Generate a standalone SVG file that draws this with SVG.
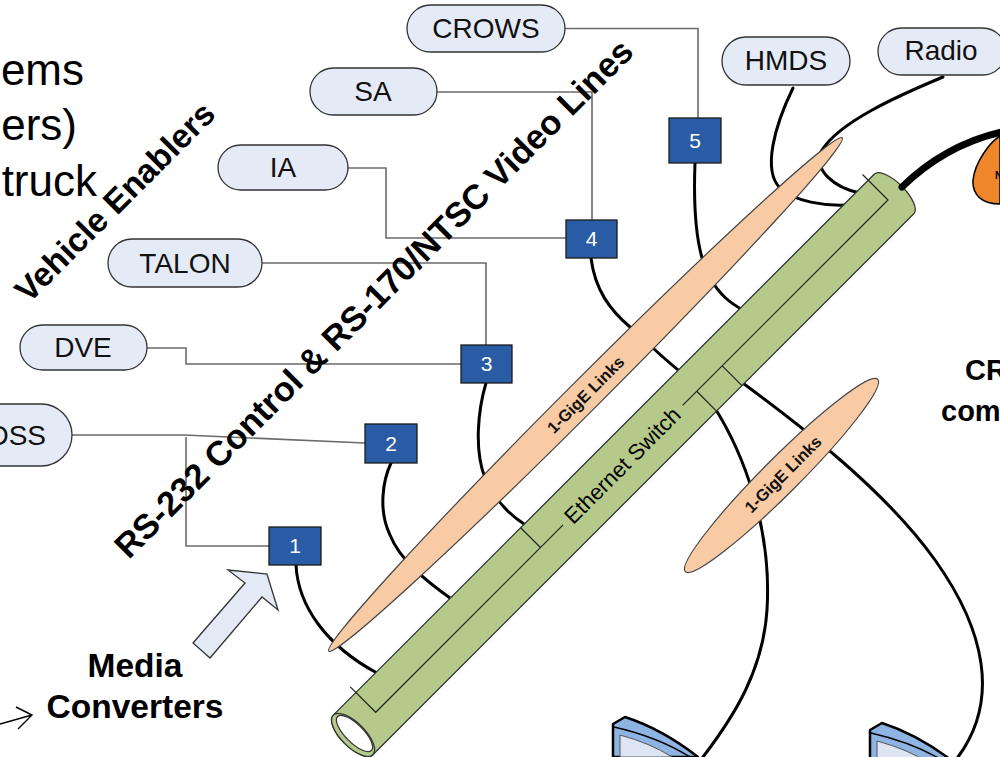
<svg xmlns="http://www.w3.org/2000/svg" width="1000" height="757" viewBox="0 0 1000 757">
<style>
.pill{fill:#E5EBF6;stroke:#333;stroke-width:1.3}
.pt{font-family:"Liberation Sans",Arial,sans-serif;font-size:28px;fill:#111;text-anchor:middle}
.box{fill:#2A5CA6;stroke:#1a1a1a;stroke-width:1.3}
.bt{font-family:"Liberation Sans",Arial,sans-serif;font-size:21px;fill:#fff;text-anchor:middle}
.gl{fill:none;stroke:#6b6b6b;stroke-width:1.6}
.cab{fill:none;stroke:#000;stroke-width:3;stroke-linecap:round}
.big{font-family:"Liberation Sans",Arial,sans-serif;font-weight:bold;fill:#000;text-anchor:middle}
.org{fill:#F8CBA5;stroke:#444;stroke-width:1.2}
.gt{font-family:"Liberation Sans",Arial,sans-serif;font-weight:bold;font-size:16.5px;fill:#111;text-anchor:middle}
.thin{fill:none;stroke:#222;stroke-width:1.2}
</style>

<!-- top-left cut text -->
<g id="legacy-text" font-family="Liberation Sans, Arial, sans-serif" font-size="44" fill="#000" text-anchor="end">
<text x="84" y="85">ems</text>
<text x="77" y="140">ers)</text>
<text x="97" y="196">truck</text>
</g>

<g id="connectors">
<path class="gl" d="M565,28.5 H698 V118"/>
<path class="gl" d="M437,92 H592 V220"/>
<path class="gl" d="M348,168 H386 V238 H566"/>
<path class="gl" d="M262,263 H486 V345"/>
<path class="gl" d="M147,348 H186 V364 H461"/>
<path class="gl" d="M72,435 H184 L365,443"/>
<path class="gl" d="M186,437 V546 H269"/>
<path class="cab" d="M296,565 C298,605 325,645 377,673"/>
<path class="cab" d="M391,463 C383,480 378,510 390,535 C400,560 425,580 450,598"/>
<path class="cab" d="M486,383 C478,410 474,450 485,478 C495,500 510,515 524,524"/>
<path class="cab" d="M591,258 C595,290 610,310 630,327 C650,345 665,360 682,373"/>
<path class="cab" d="M695,163 C693,215 697,255 710,278 C720,295 730,303 743,310"/>
<path class="cab" d="M793,88 C775,125 762,170 780,188 C795,202 825,206 847,205"/>
<path class="cab" d="M943,77 C895,97 840,122 822,150 C812,170 835,188 860,193"/>
<path class="cab" d="M713,405 C745,455 772,530 767,610 C763,670 735,715 703,757"/>
<path class="cab" d="M740,381 C800,425 885,490 935,560 C985,630 1000,700 958,757"/>
</g>

<g id="gige-links-1" transform="translate(585.5,394.5) rotate(-45)">
<ellipse class="org" cx="0" cy="0" rx="363" ry="16"/>
<text class="gt" x="0" y="6">1-GigE Links</text>
</g>
<g id="gige-links-2" transform="translate(781.5,475.5) rotate(-45)">
<ellipse class="org" cx="0" cy="0" rx="136" ry="18"/>
<text class="gt" x="2" y="6">1-GigE Links</text>
</g>

<g id="ethernet-switch" transform="translate(544,544) rotate(-45)">
<path d="M-270,-28 L495,-28 A11,28 0 0 1 495,28 L-270,28 A12,28 0 0 1 -270,-28 Z" fill="#B5C98A" stroke="#333" stroke-width="1.3"/>
<ellipse cx="-270" cy="0" rx="12" ry="28" fill="#B5C98A" stroke="#333" stroke-width="1.3"/>
<ellipse cx="-268" cy="0" rx="9" ry="24" fill="#fff" stroke="#333" stroke-width="1.2"/>
<path class="thin" d="M-238,-36 V0 H27 M196,0 H486.5 V-36"/>
<path class="thin" d="M-5,-28 V0 M216,0 V28 M252,0 V28"/>
<text x="111" y="7.5" font-family="Liberation Sans, Arial, sans-serif" font-size="22" fill="#000" text-anchor="middle">Ethernet Switch</text>
</g>

<g id="network-blob">
<path d="M1000,136 C990,142 975,162 973,180 C972,195 982,204 1000,204 Z" fill="#F0862B" stroke="#000" stroke-width="1.5"/>
<text x="995" y="179" font-family="Liberation Sans, Arial, sans-serif" font-size="10" font-weight="bold" fill="#000">N</text>
<path d="M902,187 C930,160 962,141 1002,132" fill="none" stroke="#000" stroke-width="7" stroke-linecap="round"/>
</g>

<g id="monitor-1">
<path d="M613,757 V724 L625,717 Q662,729 698,757 Z" fill="#8EB4E3" stroke="#000" stroke-width="2.5" stroke-linejoin="round"/>
<path d="M614,727 Q658,737 690,757" fill="none" stroke="#000" stroke-width="1.5"/>
<path d="M620,757 V735 Q650,743 672,757 Z" fill="#DDE5F3" stroke="#555" stroke-width="1"/>
</g>
<g id="monitor-2" transform="translate(257,6)">
<path d="M613,757 V724 L625,717 Q662,729 698,757 Z" fill="#8EB4E3" stroke="#000" stroke-width="2.5" stroke-linejoin="round"/>
<path d="M614,727 Q658,737 690,757" fill="none" stroke="#000" stroke-width="1.5"/>
<path d="M620,757 V735 Q650,743 672,757 Z" fill="#DDE5F3" stroke="#555" stroke-width="1"/>
</g>

<g id="mc-5"><rect class="box" x="669" y="118" width="52" height="45"/><text class="bt" x="695" y="148">5</text></g>
<g id="mc-4"><rect class="box" x="566" y="220" width="51" height="38"/><text class="bt" x="591.5" y="246">4</text></g>
<g id="mc-3"><rect class="box" x="461" y="345" width="51" height="38"/><text class="bt" x="486.5" y="371">3</text></g>
<g id="mc-2"><rect class="box" x="365" y="424" width="52" height="39"/><text class="bt" x="391" y="451">2</text></g>
<g id="mc-1"><rect class="box" x="269" y="527" width="52" height="38"/><text class="bt" x="295" y="553">1</text></g>

<g id="crows"><rect class="pill" x="407" y="5" width="158" height="47" rx="23.5"/><text class="pt" x="486" y="38">CROWS</text></g>
<g id="sa"><rect class="pill" x="310" y="68" width="127" height="47" rx="23.5"/><text class="pt" x="373" y="101">SA</text></g>
<g id="ia"><rect class="pill" x="218" y="145" width="130" height="45" rx="22.5"/><text class="pt" x="283" y="177">IA</text></g>
<g id="talon"><rect class="pill" x="108" y="239" width="154" height="48" rx="24"/><text class="pt" x="185" y="273">TALON</text></g>
<g id="dve"><rect class="pill" x="20" y="325" width="127" height="45" rx="22.5"/><text class="pt" x="83" y="357">DVE</text></g>
<g id="dss"><rect class="pill" x="-60" y="404" width="132" height="62" rx="31"/><text class="pt" x="46" y="445" style="text-anchor:end">DSS</text></g>
<g id="hmds"><rect class="pill" x="722" y="37" width="128" height="48" rx="24"/><text class="pt" x="786" y="70">HMDS</text></g>
<g id="radio"><rect class="pill" x="878" y="28" width="128" height="47" rx="23.5"/><text class="pt" x="941" y="60">Radio</text></g>

<g id="media-arrow">
<polygon points="193,643 245,583 228,570 267,574 278,610 262,597 210,658" fill="#E3EAF6" stroke="#333" stroke-width="1.3" stroke-linejoin="miter"/>
<path d="M0,724 L32,715 M16,707 L32,715 L18,729" fill="none" stroke="#000" stroke-width="1.4"/>
</g>

<g id="labels">
<text class="big" font-size="33.5" transform="translate(123,210) rotate(-45)">Vehicle Enablers</text>
<text class="big" font-size="34.5" transform="translate(382,307) rotate(-45)">RS-232 Control &amp; RS-170/NTSC Video Lines</text>
<text class="big" font-size="33.5" x="135" y="677">Media</text>
<text class="big" font-size="33.5" x="135" y="718">Converters</text>
<text class="big" font-size="29" x="965" y="380" style="text-anchor:start">CR</text>
<text class="big" font-size="29" x="941" y="421" style="text-anchor:start">com</text>
</g>
</svg>
